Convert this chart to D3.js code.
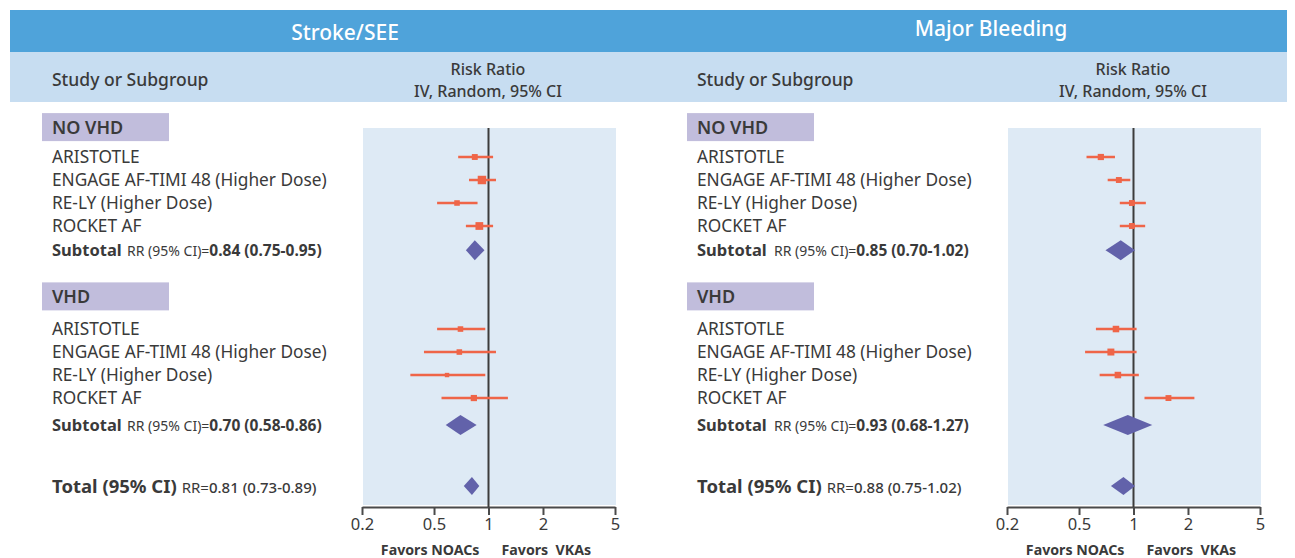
<!DOCTYPE html>
<html>
<head>
<meta charset="utf-8">
<script src="https://cdn.jsdelivr.net/npm/d3@7/dist/d3.min.js"></script>
<style>
  html, body { margin: 0; padding: 0; background: #ffffff; }
  svg { display: block; font-family: "Noto Sans", "Open Sans", sans-serif; }
</style>
</head>
<body>
<svg id="chart" width="1295" height="558"></svg>
<script>
// ---------------- DATA ----------------
const panelTitles = ["Stroke/SEE", "Major Bleeding"];
const groups = ["NO VHD", "VHD"];
const studies = ["ARISTOTLE", "ENGAGE AF-TIMI 48 (Higher Dose)", "RE-LY (Higher Dose)", "ROCKET AF"];
const tickValues = [0.2, 0.5, 1, 2, 5];
const tickLabels = ["0.2", "0.5", "1", "2", "5"];
const favorsLabels = ["Favors NOACs", "Favors  VKAs"];

// Stroke/SEE
const strokeNoVhdRR = [0.84, 0.92, 0.67, 0.89];
const strokeNoVhdLo = [0.68, 0.78, 0.52, 0.75];
const strokeNoVhdHi = [1.06, 1.10, 0.87, 1.06];
const strokeNoVhdWeight = [18, 37, 16, 31];
const strokeVhdRR = [0.70, 0.69, 0.59, 0.83];
const strokeVhdLo = [0.52, 0.44, 0.37, 0.55];
const strokeVhdHi = [0.96, 1.10, 0.96, 1.28];
const strokeVhdWeight = [16, 16, 10, 20];
const strokeSubtotals = [[0.84, 0.75, 0.95], [0.70, 0.58, 0.86]];
const strokeTotal = [0.81, 0.73, 0.89];

// Major Bleeding
const bleedNoVhdRR = [0.66, 0.83, 0.98, 0.98];
const bleedNoVhdLo = [0.55, 0.72, 0.84, 0.84];
const bleedNoVhdHi = [0.79, 0.96, 1.17, 1.16];
const bleedNoVhdWeight = [20, 18, 18, 18];
const bleedVhdRR = [0.80, 0.75, 0.82, 1.56];
const bleedVhdLo = [0.62, 0.54, 0.65, 1.15];
const bleedVhdHi = [1.04, 1.04, 1.07, 2.17];
const bleedVhdWeight = [22, 25, 22, 18];
const bleedSubtotals = [[0.85, 0.70, 1.02], [0.93, 0.68, 1.27]];
const bleedTotal = [0.88, 0.75, 1.02];

// ---------------- LAYOUT / STYLE ----------------
const C = {
  band: "#4fa3da", light: "#c7ddf1", plotBg: "#deeaf5", box: "#c1bddc",
  text: "#3a3a3a", marker: "#ef6548", diamond: "#6262aa", axis: "#4a4a4a"
};
const fmt = v => v.toFixed(2);
const panels = [
  { title: panelTitles[0], titleX: 345, titleY: 40, ox: 0,
    groupData: [
      { rr: strokeNoVhdRR, lo: strokeNoVhdLo, hi: strokeNoVhdHi, w: strokeNoVhdWeight, sub: strokeSubtotals[0] },
      { rr: strokeVhdRR, lo: strokeVhdLo, hi: strokeVhdHi, w: strokeVhdWeight, sub: strokeSubtotals[1] }
    ], total: strokeTotal, subGap: 75 },
  { title: panelTitles[1], titleX: 991, titleY: 36, ox: 645,
    groupData: [
      { rr: bleedNoVhdRR, lo: bleedNoVhdLo, hi: bleedNoVhdHi, w: bleedNoVhdWeight, sub: bleedSubtotals[0] },
      { rr: bleedVhdRR, lo: bleedVhdLo, hi: bleedVhdHi, w: bleedVhdWeight, sub: bleedSubtotals[1] }
    ], total: bleedTotal, subGap: 77 }
];

// row index -> y
const yRow = d3.scaleLinear().domain([0, 1]).range([157, 180]);
const groupRowStart = [0, 7.48];
const subRowOffset = [4.05, 4.17];
const headerRow = [-1.3, 6.06];
const totalRow = 14.3;

const size = d3.scaleSqrt().domain([0, 40]).range([0, 8.8]);

const svg = d3.select("#chart");

// header bands
svg.append("rect").attr("x", 10).attr("y", 10).attr("width", 1277).attr("height", 42).attr("fill", C.band);
svg.append("rect").attr("x", 10).attr("y", 52).attr("width", 1277).attr("height", 50).attr("fill", C.light);

panels.forEach(p => {
  const g = svg.append("g");
  const ox = p.ox;
  const x = d3.scaleLog().domain([0.2, 5]).range([362 + ox, 615 + ox]);

  // titles
  g.append("text").attr("x", p.titleX).attr("y", p.titleY).attr("text-anchor", "middle")
    .attr("fill", "#ffffff").attr("font-size", 21).attr("font-weight", 500).text(p.title);
  g.append("text").attr("x", 52 + ox).attr("y", 86).attr("fill", C.text)
    .attr("font-size", 17.5).attr("font-weight", 500).text("Study or Subgroup");
  g.append("text").attr("x", 488 + ox).attr("y", 74.5).attr("text-anchor", "middle").attr("fill", C.text)
    .attr("font-size", 16).attr("font-weight", 500).text("Risk Ratio");
  g.append("text").attr("x", 488 + ox).attr("y", 96.5).attr("text-anchor", "middle").attr("fill", C.text)
    .attr("font-size", 16).attr("font-weight", 500).text("IV, Random, 95% CI");

  // plot background
  g.append("rect").attr("x", x(0.2) + 1).attr("y", 128).attr("width", x(5) - x(0.2)).attr("height", 377)
    .attr("fill", C.plotBg);

  // axis
  const axis = d3.axisBottom(x).tickValues(tickValues).tickFormat((d, i) => tickLabels[i])
    .tickSize(8).tickSizeOuter(0);
  const ag = g.append("g").attr("transform", "translate(0,507)").call(axis);
  ag.select(".domain").attr("stroke", C.axis).attr("stroke-width", 2);
  ag.selectAll(".tick line").attr("stroke", C.axis).attr("stroke-width", 2);
  ag.selectAll(".tick text").attr("fill", C.text).attr("font-size", 16.5)
    .attr("font-family", "'Noto Sans', sans-serif");

  // line of no effect
  g.append("line").attr("x1", x(1)).attr("x2", x(1)).attr("y1", 128).attr("y2", 507)
    .attr("stroke", "#3c3c3c").attr("stroke-width", 2);

  // favors labels
  g.append("text").attr("x", x(1) - 9).attr("y", 555).attr("text-anchor", "end").attr("fill", C.text)
    .attr("font-size", 14.2).attr("font-weight", 700).text(favorsLabels[0]);
  g.append("text").attr("x", x(1) + 13).attr("y", 555).attr("fill", C.text)
    .style("white-space", "pre")
    .attr("font-size", 14.2).attr("font-weight", 700).text(favorsLabels[1]);

  p.groupData.forEach((gd, gi) => {
    // group header box
    const hy = yRow(headerRow[gi]);
    g.append("rect").attr("x", 42 + ox).attr("y", hy - 14).attr("width", 127).attr("height", 28).attr("fill", C.box);
    g.append("text").attr("x", 52 + ox).attr("y", hy + 7).attr("fill", C.text)
      .attr("font-size", 18).attr("font-weight", 600).text(groups[gi]);

    studies.forEach((s, i) => {
      const y = yRow(groupRowStart[gi] + i);
      g.append("text").attr("x", 52 + ox).attr("y", y + 6).attr("fill", C.text)
        .attr("font-size", 17.3).text(s);
      g.append("line").attr("x1", x(gd.lo[i])).attr("x2", x(gd.hi[i])).attr("y1", y).attr("y2", y)
        .attr("stroke", C.marker).attr("stroke-width", 2.5);
      const sz = size(gd.w[i]);
      g.append("rect").attr("x", x(gd.rr[i]) - sz / 2).attr("y", y - sz / 2).attr("width", sz).attr("height", sz)
        .attr("fill", C.marker);
    });

    // subtotal
    const sy = yRow(groupRowStart[gi] + subRowOffset[gi]);
    const t = g.append("text").attr("x", 52 + ox).attr("y", sy + 6).attr("fill", C.text);
    t.append("tspan").attr("font-size", 16.5).attr("font-weight", 700).text("Subtotal");
    t.append("tspan").attr("x", 52 + ox + p.subGap).attr("font-size", 14).text("RR (95% CI)=");
    t.append("tspan").attr("font-size", 15.5).attr("font-weight", 700)
      .text(`${fmt(gd.sub[0])} (${fmt(gd.sub[1])}-${fmt(gd.sub[2])})`);
    const hh = 10;
    g.append("path")
      .attr("d", `M${x(gd.sub[1])},${sy} L${x(gd.sub[0])},${sy - hh} L${x(gd.sub[2])},${sy} L${x(gd.sub[0])},${sy + hh} Z`)
      .attr("fill", C.diamond);
  });

  // total
  const ty = yRow(totalRow);
  const tt = g.append("text").attr("x", 52 + ox).attr("y", ty + 7).attr("fill", C.text);
  tt.append("tspan").attr("font-size", 18.5).attr("font-weight", 700).text("Total (95% CI)");
  tt.append("tspan").attr("dx", 5).attr("font-size", 15).text("RR=");
  tt.append("tspan").attr("font-size", 15).attr("font-weight", 500)
    .text(`${fmt(p.total[0])} (${fmt(p.total[1])}-${fmt(p.total[2])})`);
  const th = 9;
  g.append("path")
    .attr("d", `M${x(p.total[1])},${ty} L${x(p.total[0])},${ty - th} L${x(p.total[2])},${ty} L${x(p.total[0])},${ty + th} Z`)
    .attr("fill", C.diamond);
});
</script>
</body>
</html>
